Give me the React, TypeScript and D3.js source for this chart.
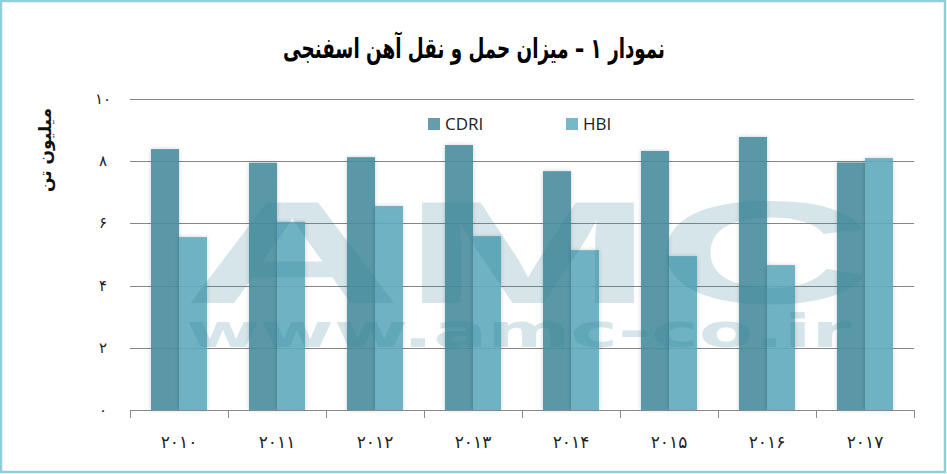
import React, { useEffect, useRef } from 'react';
import * as d3 from 'd3';

const years = ['2010', '2011', '2012', '2013', '2014', '2015', '2016', '2017'];
const yearLabels = ['۲۰۱۰', '۲۰۱۱', '۲۰۱۲', '۲۰۱۳', '۲۰۱۴', '۲۰۱۵', '۲۰۱۶', '۲۰۱۷'];
const seriesNames = ['CDRI', 'HBI'];
const cdriValues = [8.39, 7.95, 8.13, 8.52, 7.68, 8.33, 8.78, 7.96];
const hbiValues = [5.56, 6.05, 6.56, 5.59, 5.14, 4.95, 4.66, 8.1];
const yTicks = [0, 2, 4, 6, 8, 10];
const yTickLabels = ['۰', '۲', '۴', '۶', '۸', '۱۰'];
const title = 'نمودار ۱ – میزان حمل و نقل آهن اسفنجی';
const yTitle = 'میلیون تن';

const App: React.FC = () => {
  const svgRef = useRef<SVGSVGElement>(null);

  useEffect(() => {
    const svg = d3.select(svgRef.current);
    svg.selectAll('*').remove();

    const width = 947;
    const height = 474;
    const margin = { top: 99, right: 33, bottom: 64, left: 130 };
    const font = "'DejaVu Sans', sans-serif";

    svg.attr('width', width).attr('height', height);

    const defs = svg.append('defs');
    const shadow = defs.append('filter')
      .attr('id', 'barShadow')
      .attr('x', '-30%').attr('y', '-10%')
      .attr('width', '160%').attr('height', '120%');
    shadow.append('feDropShadow')
      .attr('dx', 0).attr('dy', 0)
      .attr('stdDeviation', 2)
      .attr('flood-color', '#000')
      .attr('flood-opacity', 0.22);

    // background + border
    svg.append('rect')
      .attr('x', 1).attr('y', 1)
      .attr('width', width - 3).attr('height', height - 3)
      .attr('fill', '#fff')
      .attr('stroke', '#92cddc')
      .attr('stroke-width', 2.5);

    const x0 = d3.scaleBand<string>()
      .domain(years)
      .range([margin.left, width - margin.right])
      .padding(0);

    const bw = x0.bandwidth();
    const x1 = d3.scaleBand<string>()
      .domain(seriesNames)
      .range([bw * 0.214, bw * 0.786])
      .padding(0);

    const y = d3.scaleLinear()
      .domain([0, 10])
      .range([height - margin.bottom, margin.top]);

    const color = d3.scaleOrdinal<string, string>()
      .domain(seriesNames)
      .range(['#498d9e', '#60aabe']);

    // gridlines
    svg.append('g')
      .selectAll('line')
      .data(yTicks.filter(d => d > 0))
      .enter().append('line')
      .attr('x1', margin.left)
      .attr('x2', width - margin.right)
      .attr('y1', d => Math.round(y(d)) + 0.5)
      .attr('y2', d => Math.round(y(d)) + 0.5)
      .attr('stroke', '#868686')
      .attr('stroke-width', 1);

    // bars
    const rows = years.map((yr, i) => ({ year: yr, values: [cdriValues[i], hbiValues[i]] }));
    const groups = svg.append('g')
      .selectAll('g')
      .data(rows)
      .enter().append('g')
      .attr('transform', d => `translate(${x0(d.year)},0)`);

    groups.selectAll('rect')
      .data(d => seriesNames.map((s, j) => ({ key: s, value: d.values[j] })))
      .enter().append('rect')
      .attr('x', d => x1(d.key) as number)
      .attr('width', x1.bandwidth())
      .attr('y', d => y(d.value))
      .attr('height', d => y(0) - y(d.value))
      .attr('fill', d => color(d.key))
      .attr('opacity', 0.9)
      .attr('filter', 'url(#barShadow)');

    // watermark
    const wm = svg.append('g').attr('pointer-events', 'none');
    wm.append('text')
      .attr('x', 183)
      .attr('y', 303)
      .attr('textLength', 690)
      .attr('lengthAdjust', 'spacingAndGlyphs')
      .style('font-family', "'Liberation Sans', Arial, sans-serif")
      .style('font-weight', 'bold')
      .style('font-size', '146px')
      .attr('fill', '#2e7f97')
      .attr('fill-opacity', 0.2)
      .text('AMC');
    wm.append('text')
      .attr('x', 186)
      .attr('y', 347)
      .attr('textLength', 665)
      .attr('lengthAdjust', 'spacingAndGlyphs')
      .style('font-family', "'DejaVu Sans', sans-serif")
      .style('font-weight', 'bold')
      .style('font-size', '46px')
      .attr('fill', '#2e7f97')
      .attr('fill-opacity', 0.2)
      .text('www.amc-co.ir');

    // x axis line + ticks
    const axis = svg.append('g').attr('stroke', '#898989').attr('stroke-width', 1);
    axis.append('line')
      .attr('x1', margin.left).attr('x2', width - margin.right)
      .attr('y1', y(0) + 0.5).attr('y2', y(0) + 0.5);
    axis.selectAll('line.tick')
      .data([...years.map(d => x0(d) as number), width - margin.right])
      .enter().append('line')
      .attr('class', 'tick')
      .attr('x1', d => Math.round(d) + 0.5)
      .attr('x2', d => Math.round(d) + 0.5)
      .attr('y1', y(0))
      .attr('y2', y(0) + 8);

    // x labels
    svg.append('g')
      .selectAll('text')
      .data(years)
      .enter().append('text')
      .attr('x', d => (x0(d) as number) + bw / 2)
      .attr('y', 448)
      .attr('text-anchor', 'middle')
      .style('font-family', font)
      .style('font-size', '17px')
      .attr('fill', '#222')
      .text((_d, i) => yearLabels[i]);

    // y labels
    svg.append('g')
      .selectAll('text')
      .data(yTicks)
      .enter().append('text')
      .attr('x', 103)
      .attr('y', d => y(d) + 5)
      .attr('text-anchor', 'middle')
      .style('font-family', font)
      .style('font-size', '15px')
      .attr('fill', '#222')
      .text((_d, i) => yTickLabels[i]);

    // y title
    svg.append('text')
      .attr('transform', 'translate(51,150) rotate(-90)')
      .attr('text-anchor', 'middle')
      .style('font-family', font)
      .style('font-size', '17px')
      .style('font-weight', 'bold')
      .attr('fill', '#111')
      .text(yTitle);

    // title (rtl: x is the right edge)
    svg.append('text')
      .attr('x', 665)
      .attr('y', 58)
      .attr('textLength', 382)
      .attr('lengthAdjust', 'spacingAndGlyphs')
      .attr('direction', 'rtl')
      .style('font-family', font)
      .style('font-size', '28px')
      .style('font-weight', 'bold')
      .attr('fill', '#000')
      .text(title);

    // legend
    const legendX = [428, 566];
    const legend = svg.append('g')
      .selectAll('g')
      .data(seriesNames)
      .enter().append('g')
      .attr('transform', (_d, i) => `translate(${legendX[i]},118)`);
    legend.append('rect')
      .attr('width', 12).attr('height', 12)
      .attr('fill', d => color(d))
      .attr('opacity', 0.85);
    legend.append('text')
      .attr('x', 17)
      .attr('y', 12)
      .style('font-family', "'Open Sans', sans-serif")
      .style('font-size', '17px')
      .attr('fill', '#222')
      .text(d => d);
  }, []);

  return (
    <svg ref={svgRef} style={{ position: 'absolute', left: 0, top: 0, display: 'block' }}></svg>
  );
};

export default App;
